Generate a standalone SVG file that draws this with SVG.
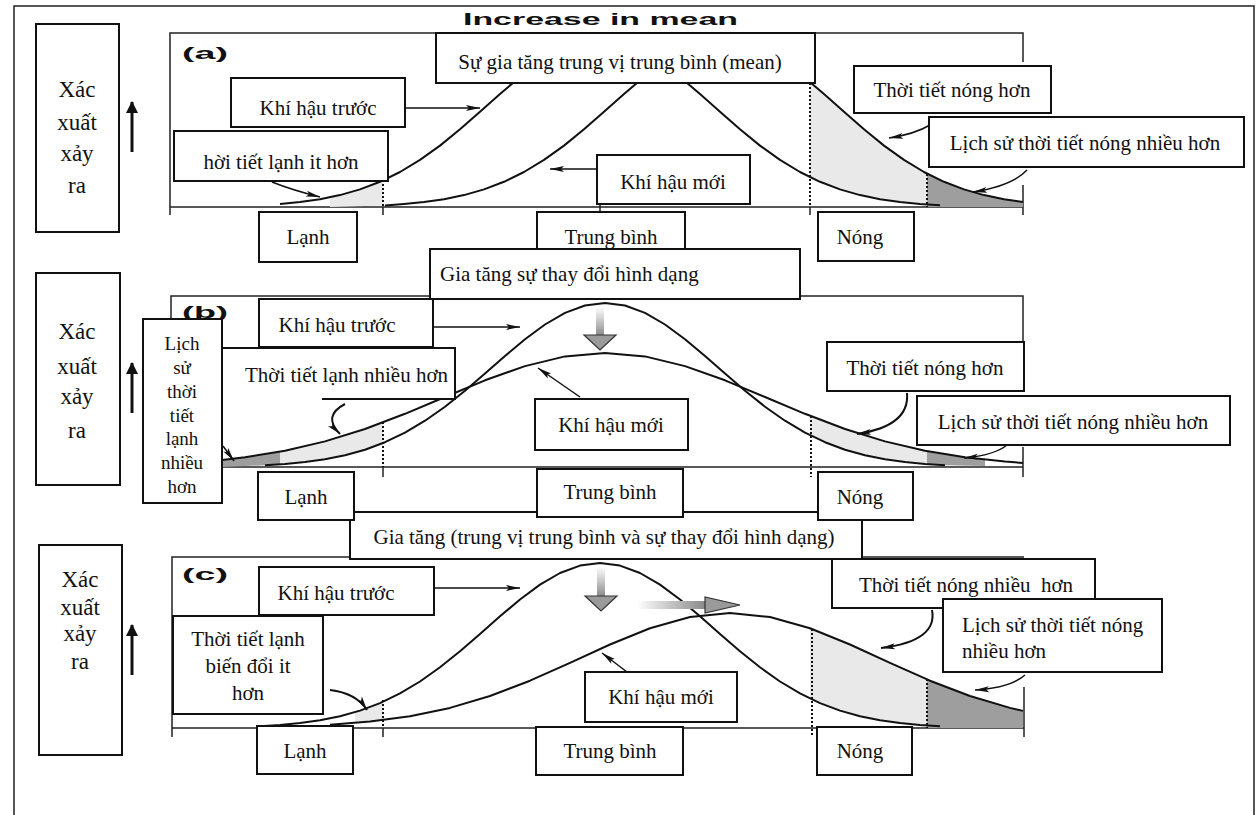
<svg xmlns="http://www.w3.org/2000/svg" width="1257" height="815" viewBox="0 0 1257 815">
<defs>
<style>
.frame{fill:none;stroke:#222;stroke-width:1.5}
.curve{fill:none;stroke:#111;stroke-width:2;stroke-linejoin:round}
.box rect{fill:#fff;stroke:#111;stroke-width:2}
.t{font-family:"Liberation Serif","Times New Roman",serif;font-size:21px;fill:#111;text-anchor:middle}
.ts{font-family:"Liberation Serif","Times New Roman",serif;font-size:21px;fill:#111}
.ax{font-family:"Liberation Serif","Times New Roman",serif;font-size:23px;fill:#111;text-anchor:middle}
.lbl{font-family:"Liberation Sans",Arial,sans-serif;font-size:17px;font-weight:bold;fill:#111}
.dot{fill:none;stroke:#111;stroke-width:2;stroke-dasharray:2,2}
.conn{fill:none;stroke:#111;stroke-width:1.5}
.thick{stroke-width:2}
.yarrow{stroke-width:3}
.light{fill:#e9e9e9}
.dark{fill:#9e9e9e}
</style>
<marker id="ah" markerUnits="userSpaceOnUse" markerWidth="16" markerHeight="8" refX="14" refY="4" orient="auto">
<path d="M0,1 L14,4 L0,7 L3,4 Z" fill="#111"/>
</marker>
<marker id="up" markerUnits="userSpaceOnUse" markerWidth="12" markerHeight="12" refX="11" refY="6" orient="auto">
<path d="M0,0 L12,6 L0,12 Z" fill="#111"/>
</marker>
<linearGradient id="gv" x1="0" y1="0" x2="0" y2="1"><stop offset="0" stop-color="#fff"/><stop offset="1" stop-color="#888"/></linearGradient>
<linearGradient id="gh" x1="0" y1="0" x2="1" y2="0"><stop offset="0" stop-color="#fff"/><stop offset="1" stop-color="#888"/></linearGradient>
</defs>
<rect width="1257" height="815" fill="#fff"/>
<path class="frame" d="M14,815 V6 H1254 V815"/>
<text x="463" y="25" font-family="Liberation Sans, Arial, sans-serif" font-size="17" font-weight="900" fill="#111" textLength="275" lengthAdjust="spacingAndGlyphs">Increase in mean</text>

<!-- axis-label boxes -->
<g id="yaxis-a" class="box"><rect x="36" y="24" width="83" height="208"/>
<text class="ax" x="77" y="97">Xác</text><text class="ax" x="77" y="130">xuất</text><text class="ax" x="77" y="161">xảy</text><text class="ax" x="77" y="193">ra</text></g>
<g id="yaxis-b" class="box"><rect x="36" y="273" width="84" height="212"/>
<text class="ax" x="77" y="339">Xác</text><text class="ax" x="77" y="374">xuất</text><text class="ax" x="77" y="404">xảy</text><text class="ax" x="77" y="438">ra</text></g>
<g id="yaxis-c" class="box"><rect x="39" y="545" width="83" height="210"/>
<text class="ax" x="80" y="587">Xác</text><text class="ax" x="80" y="615">xuất</text><text class="ax" x="80" y="641">xảy</text><text class="ax" x="80" y="669">ra</text></g>

<!-- panel frames and axes -->
<g id="frames">
<path class="frame" d="M170,215 V33 H1023 V62"/>
<path class="frame" d="M170,207 H1023 M1023,185 V215 M383,207 V215 M600,204 V212"/>
<path class="frame" d="M171,477 V296 H1023 V342"/>
<path class="frame" d="M171,467 H1023 M1023,447 V477 M383,467 V477"/>
<path class="frame" d="M172,737 V557 H1024"/>
<path class="frame" d="M172,728 H1024 M1024,687 V737 M383,728 V737"/>
<text class="lbl" x="182" y="59" textLength="46" lengthAdjust="spacingAndGlyphs">(a)</text>
<text class="lbl" x="182" y="318" textLength="46" lengthAdjust="spacingAndGlyphs">(b)</text>
<text class="lbl" x="182" y="580" textLength="46" lengthAdjust="spacingAndGlyphs">(c)</text>
</g>

<!-- shading -->
<g id="shading">
<path class="light" d="M330,197 L340,195.1 360,189.4 380,181.8 383,180.5 L383,205.5 L330,207 Z"/>
<path class="light" d="M810,82 L824,94 844,111.8 864,129.3 884,145.6 904,159.9 924,172 927,173.5 L927,204.4 920,203.9 900,202 880,199.2 860,195.1 840,189.4 820,181.8 810,177 Z"/>
<path class="dark" d="M927,173.5 L944,181.8 964,189.4 984,195.1 1004,199.2 1023,201.9 L1023,207 L927,207 Z"/>
<path class="dark" d="M222,460 L245,457.3 280,451.6 L280,464.3 265,465.2 222,467 Z"/>
<path class="light" d="M280,451.6 L285,450.8 325,441.4 365,429 383,422.2 L383,442.9 365,449.7 345,455.3 325,459.3 305,462.1 285,464 280,464.3 Z"/>
<path class="light" d="M810,415.7 L845,429 885,441.4 925,450.8 927,451.1 L927,464.1 905,462.1 885,459.3 865,455.3 845,449.7 825,442.2 810,435 Z"/>
<path class="dark" d="M927,451.1 L965,457.3 985,459.5 L985,466 L945,465.2 927,464.1 Z"/>
<path class="light" d="M355,712 L360,710.6 380,703.1 383,701.6 L383,719.8 370,721.6 355,722.8 Z"/>
<path class="light" d="M810,628.2 L850,644.5 890,662.9 927,679.4 L927,725.4 920,725 900,723.1 880,720.3 860,716.2 840,710.6 820,703.1 810,698.3 Z"/>
<path class="dark" d="M927,679.4 L930,680.7 970,696 1010,707.9 1023,710.9 L1023,728 L927,728 Z"/>
</g>

<!-- distribution curves -->
<g id="curves">
<polyline class="curve" points="280,203.9 300,202 320,199.2 340,195.1 360,189.4 380,181.8 400,172 420,159.9 440,145.6 460,129.3 480,111.8 500,94 520,76.9 540,61.9 560,50.1 580,42.6 600,40 620,42.6 640,50.1 660,61.9 680,76.9 700,94 720,111.8 740,129.3 760,145.6 780,159.9 800,172 820,181.8 840,189.4 860,195.1 880,199.2 900,202 920,203.9 940,205.2"/>
<polyline class="curve" points="385,205.5 404,203.9 424,202 444,199.2 464,195.1 484,189.4 504,181.8 524,172 544,159.9 564,145.6 584,129.3 604,111.8 624,94 644,76.9 664,61.9 684,50.1 704,42.6 724,40 744,42.6 764,50.1 784,61.9 804,76.9 824,94 844,111.8 864,129.3 884,145.6 904,159.9 924,172 944,181.8 964,189.4 984,195.1 1004,199.2 1023,201.9"/>
<polyline class="curve" points="265,465.2 285,464 305,462.1 325,459.3 345,455.3 365,449.7 385,442.2 405,432.6 425,420.7 445,406.7 465,390.7 485,373.6 505,356 525,339.3 545,324.5 565,312.9 585,305.5 605,303 625,305.5 645,312.9 665,324.5 685,339.3 705,356 725,373.6 745,390.7 765,406.7 785,420.7 805,432.6 825,442.2 845,449.7 865,455.3 885,459.3 905,462.1 925,464 945,465.2"/>
<polyline class="curve" points="222,460 245,457.3 285,450.8 325,441.4 365,429 405,413.8 445,397 485,380.3 525,366.1 565,356.4 605,353 645,356.4 685,366.1 725,380.3 765,397 805,413.8 845,429 885,441.4 925,450.8 965,457.3 1005,461.6 1023,462.9"/>
<polyline class="curve" points="260,726.2 280,725 300,723.1 320,720.3 340,716.2 360,710.6 380,703.1 400,693.4 420,681.5 440,667.3 460,651.3 480,634 500,616.3 520,599.5 540,584.6 560,573 580,565.6 600,563 620,565.6 640,573 660,584.6 680,599.5 700,616.3 720,634 740,651.3 760,667.3 780,681.5 800,693.4 820,703.1 840,710.6 860,716.2 880,720.3 900,723.1 920,725 940,726.2"/>
<polyline class="curve" points="330,724.7 370,721.6 410,716.2 450,707.9 490,696 530,680.7 570,662.9 610,644.5 650,628.2 690,617 730,613 770,617 810,628.2 850,644.5 890,662.9 930,680.7 970,696 1010,707.9 1023,710.9"/>
<path class="dot" d="M383,180 V207 M810,83 V207 M927,174 V207"/>
<path class="frame" d="M810,207 V215"/>
<path class="dot" d="M383,422 V467 M811,416 V477"/>
<path class="dot" d="M383,700 V728 M812,629 V737 M927,679 V728"/>
</g>

<!-- shift arrows -->
<g id="shift-arrows">
<rect x="596" y="307" width="8" height="29" fill="url(#gv)"/>
<path d="M584,335 L616,335 L600,350 Z" fill="#9a9a9a" stroke="#333" stroke-width="1.2"/>
<rect x="597" y="567" width="8" height="30" fill="url(#gv)"/>
<path d="M585,596 L617,596 L601,611 Z" fill="#9a9a9a" stroke="#333" stroke-width="1.2"/>
<rect x="637" y="601" width="69" height="8" fill="url(#gh)"/>
<path d="M705,597 L705,613 L740,605 Z" fill="#9a9a9a" stroke="#333" stroke-width="1.2"/>
</g>

<!-- connectors -->
<g id="connectors">
<path class="conn yarrow" d="M132,152 V102" marker-end="url(#up)"/>
<path class="conn yarrow" d="M132,413 V363" marker-end="url(#up)"/>
<path class="conn yarrow" d="M132,675 V625" marker-end="url(#up)"/>
<path class="conn" d="M405,108 L480,108" marker-end="url(#ah)"/>
<path class="conn" d="M272,182 Q292,190 320,197" marker-end="url(#ah)"/>
<path class="conn" d="M597,169 L550,169" marker-end="url(#ah)"/>
<path class="conn" d="M930,125 Q915,134 889,138" marker-end="url(#ah)"/>
<path class="conn" d="M1027,170 Q1012,186 973,192" marker-end="url(#ah)"/>
<path class="conn" d="M433,327 L520,327" marker-end="url(#ah)"/>
<path class="conn" d="M223,446 L234,461" marker-end="url(#ah)"/>
<path class="conn thick" d="M345,404 Q322,416 340,434" marker-end="url(#ah)"/>
<path class="conn" d="M580,397 L538,368" marker-end="url(#ah)"/>
<path class="conn thick" d="M907,393 Q910,426 857,434" marker-end="url(#ah)"/>
<path class="conn" d="M1007,445 Q995,455 964,458" marker-end="url(#ah)"/>
<path class="conn" d="M434,588 L520,588" marker-end="url(#ah)"/>
<path class="conn thick" d="M330,690 Q356,693 367,710" marker-end="url(#ah)"/>
<path class="conn" d="M627,672 L602,653" marker-end="url(#ah)"/>
<path class="conn thick" d="M932,610 Q938,641 881,648" marker-end="url(#ah)"/>
<path class="conn" d="M1025,675 Q1010,688 975,690" marker-end="url(#ah)"/>
</g>

<!-- panel (a) nodes -->
<g id="a-trungbinh" class="box"><rect x="537" y="212" width="148" height="42"/><text class="t" x="611" y="244">Trung bình</text></g>
<g id="a-mean" class="box"><rect x="436" y="33" width="379" height="50"/><text class="t" x="620" y="69">Sự gia tăng trung vị trung bình (mean)</text></g>
<g id="a-khitruoc" class="box"><rect x="231" y="78" width="174" height="49"/><text class="t" x="318" y="115">Khí hậu trước</text></g>
<g id="a-lanhit" class="box"><rect x="174" y="131" width="214" height="50"/><text class="t" x="281" y="169">hời tiết lạnh it hơn</text></g>
<g id="a-lanh" class="box"><rect x="259" y="212" width="98" height="50"/><text class="t" x="308" y="244">Lạnh</text></g>
<g id="a-khimoi" class="box"><rect x="597" y="155" width="153" height="49"/><text class="t" x="673" y="189">Khí hậu mới</text></g>
<g id="a-nong" class="box"><rect x="818" y="212" width="96" height="49"/><text class="t" x="860" y="244">Nóng</text></g>
<g id="a-nonghon" class="box"><rect x="854" y="66" width="197" height="47"/><text class="t" x="952" y="97">Thời tiết nóng hơn</text></g>
<g id="a-lichsu" class="box"><rect x="929" y="117" width="315" height="50"/><text class="t" x="1085" y="150">Lịch sử thời tiết nóng nhiều hơn</text></g>

<!-- panel (b) nodes -->
<g id="b-title" class="box"><rect x="430" y="249" width="370" height="50"/><text class="ts" x="440" y="281">Gia tăng sự thay đổi hình dạng</text></g>
<g id="b-khitruoc" class="box"><rect x="259" y="299" width="174" height="48"/><text class="t" x="337" y="332">Khí hậu trước</text></g>
<g id="b-lanhnhieu"><rect x="222" y="348" width="233" height="51" fill="#fff"/><path d="M222,348 H455 V399 H322" fill="none" stroke="#111" stroke-width="2"/><text class="ts" x="245" y="382">Thời tiết lạnh nhiều hơn</text></g>
<g id="b-lichsulanh" class="box"><rect x="143" y="319" width="79" height="184"/>
<text class="t" x="182" y="350" style="font-size:19px">Lịch</text><text class="t" x="182" y="374" style="font-size:19px">sử</text><text class="t" x="182" y="398" style="font-size:19px">thời</text><text class="t" x="182" y="422" style="font-size:19px">tiết</text><text class="t" x="182" y="445" style="font-size:19px">lạnh</text><text class="t" x="182" y="469" style="font-size:19px">nhiều</text><text class="t" x="182" y="493" style="font-size:19px">hơn</text></g>
<g id="b-khimoi" class="box"><rect x="535" y="399" width="153" height="51"/><text class="t" x="611" y="432">Khí hậu mới</text></g>
<g id="b-nonghon" class="box"><rect x="827" y="342" width="197" height="49"/><text class="t" x="925" y="375">Thời tiết nóng hơn</text></g>
<g id="b-lichsu" class="box"><rect x="917" y="396" width="313" height="49"/><text class="t" x="1073" y="429">Lịch sử thời tiết nóng nhiều hơn</text></g>
<g id="c-title" class="box"><rect x="350" y="512" width="512" height="47"/><text class="t" x="604" y="544">Gia tăng (trung vị trung bình và sự thay đổi hình dạng)</text></g>
<g id="b-trungbinh" class="box"><rect x="537" y="469" width="146" height="48"/><text class="t" x="610" y="499">Trung bình</text></g>
<g id="b-lanh" class="box"><rect x="258" y="472" width="96" height="48"/><text class="t" x="306" y="504">Lạnh</text></g>
<g id="b-nong" class="box"><rect x="818" y="472" width="95" height="48"/><text class="t" x="860" y="504">Nóng</text></g>

<!-- panel (c) nodes -->
<g id="c-khitruoc" class="box"><rect x="259" y="567" width="175" height="48"/><text class="t" x="336" y="600">Khí hậu trước</text></g>
<g id="c-lanhit" class="box"><rect x="173" y="616" width="150" height="98"/><text class="t" x="248" y="646">Thời tiết lạnh</text><text class="t" x="248" y="673">biến đổi it</text><text class="t" x="248" y="700">hơn</text></g>
<g id="c-khimoi" class="box"><rect x="585" y="672" width="152" height="50"/><text class="t" x="661" y="704">Khí hậu mới</text></g>
<g id="c-trungbinh" class="box"><rect x="536" y="727" width="147" height="48"/><text class="t" x="610" y="758">Trung bình</text></g>
<g id="c-lanh" class="box"><rect x="257" y="726" width="96" height="48"/><text class="t" x="305" y="758">Lạnh</text></g>
<g id="c-nong" class="box"><rect x="817" y="727" width="95" height="48"/><text class="t" x="860" y="758">Nóng</text></g>
<g id="c-nongnhieu" class="box"><rect x="832" y="559" width="263" height="49"/><text class="ts" x="859" y="592">Thời tiết nóng nhiều&#160; hơn</text></g>
<g id="c-lichsu" class="box"><rect x="943" y="599" width="219" height="73"/><text class="ts" x="962" y="632">Lịch sử thời tiết nóng</text><text class="ts" x="962" y="658">nhiều hơn</text></g>
</svg>
